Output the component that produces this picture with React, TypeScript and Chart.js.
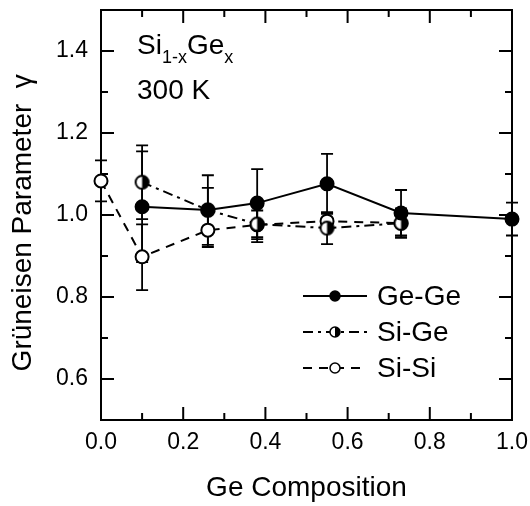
import React, { useEffect, useRef } from "react";
import { Chart, registerables } from "chart.js";
Chart.register(...registerables);

const FONT = "'Liberation Sans', Arial, Helvetica, sans-serif";

const xTicks = [0, 0.2, 0.4, 0.6, 0.8, 1.0];
const yTicks = [0.6, 0.8, 1.0, 1.2, 1.4];
const xMinor = [0.1, 0.3, 0.5, 0.7, 0.9];
const yMinor = [0.7, 0.9, 1.1, 1.3];

const seriesNames = ["Ge-Ge", "Si-Ge", "Si-Si"];

const geGeX = [0.1, 0.26, 0.38, 0.55, 0.73, 1.0];
const geGeY = [1.02, 1.012, 1.029, 1.076, 1.005, 0.99];
const geGeLow = [0.885, 0.927, 0.946, 1.003, 0.949, 0.95];
const geGeHigh = [1.155, 1.097, 1.112, 1.149, 1.061, 1.03];

const siGeX = [0.1, 0.26, 0.38, 0.55, 0.73];
const siGeY = [1.08, 1.012, 0.978, 0.968, 0.98];
const siGeLow = [0.99, 0.958, 0.934, 0.929, 0.944];
const siGeHigh = [1.17, 1.066, 1.022, 1.007, 1.016];

const siSiX = [0.0, 0.1, 0.26, 0.38, 0.55, 0.73];
const siSiY = [1.083, 0.898, 0.963, 0.976, 0.985, 0.98];
const siSiLow = [1.033, 0.817, 0.922, 0.941, 0.965, 0.95];
const siSiHigh = [1.133, 0.977, 1.004, 1.011, 1.005, 1.01];

const errLow = [geGeLow, siGeLow, siSiLow];
const errHigh = [geGeHigh, siGeHigh, siSiHigh];
const markerKinds = ["filled", "half", "open"];

function drawMarker(ctx: CanvasRenderingContext2D, kind: string, x: number, y: number, r: number, lw: number) {
  ctx.save();
  ctx.setLineDash([]);
  ctx.lineWidth = lw;
  ctx.strokeStyle = "#000";
  ctx.beginPath();
  ctx.arc(x, y, r, 0, Math.PI * 2);
  ctx.fillStyle = kind === "filled" ? "#000" : "#fff";
  ctx.fill();
  if (kind === "half") {
    ctx.beginPath();
    ctx.arc(x, y, r, -Math.PI / 2, Math.PI / 2);
    ctx.closePath();
    ctx.fillStyle = "#000";
    ctx.fill();
  }
  ctx.beginPath();
  ctx.arc(x, y, r, 0, Math.PI * 2);
  ctx.stroke();
  ctx.restore();
}

function makeHalfImage(r: number, lw: number) {
  const size = Math.ceil(2 * (r + lw));
  const c = document.createElement("canvas");
  c.width = size;
  c.height = size;
  const ctx = c.getContext("2d")!;
  drawMarker(ctx, "half", size / 2, size / 2, r, lw);
  return c;
}

const framePlugin = {
  id: "frameTicks",
  beforeDatasetsDraw(chart: any) {
    const { ctx, chartArea: a, scales } = chart;
    const xs = scales.x, ys = scales.y;
    ctx.save();
    ctx.strokeStyle = "#000";
    ctx.lineWidth = 2;
    ctx.setLineDash([]);
    ctx.strokeRect(a.left, a.top, a.right - a.left, a.bottom - a.top);
    const major = 13, minor = 7;
    ctx.beginPath();
    const xt = (v: number, len: number) => {
      const p = xs.getPixelForValue(v);
      ctx.moveTo(p, a.bottom); ctx.lineTo(p, a.bottom - len);
      ctx.moveTo(p, a.top); ctx.lineTo(p, a.top + len);
    };
    const yt = (v: number, len: number) => {
      const p = ys.getPixelForValue(v);
      ctx.moveTo(a.left, p); ctx.lineTo(a.left + len, p);
      ctx.moveTo(a.right, p); ctx.lineTo(a.right - len, p);
    };
    xTicks.forEach((v) => xt(v, major));
    xMinor.forEach((v) => xt(v, minor));
    yTicks.forEach((v) => yt(v, major));
    yMinor.forEach((v) => yt(v, minor));
    ctx.stroke();

    // error bars
    ctx.lineWidth = 1.8;
    chart.data.datasets.forEach((ds: any, si: number) => {
      ds.data.forEach((pt: any, i: number) => {
        const px = xs.getPixelForValue(pt.x);
        const lo = ys.getPixelForValue(errLow[si][i]);
        const hi = ys.getPixelForValue(errHigh[si][i]);
        ctx.beginPath();
        ctx.moveTo(px, lo); ctx.lineTo(px, hi);
        ctx.moveTo(px - 6, lo); ctx.lineTo(px + 6, lo);
        ctx.moveTo(px - 6, hi); ctx.lineTo(px + 6, hi);
        ctx.stroke();
      });
    });
    ctx.restore();
  },
  afterDraw(chart: any) {
    const { ctx } = chart;
    ctx.save();
    ctx.fillStyle = "#000";
    ctx.textBaseline = "alphabetic";
    ctx.textAlign = "left";
    // annotation
    const big = `28px ${FONT}`, small = `18px ${FONT}`;
    let x = 137;
    ctx.font = big; ctx.fillText("Si", x, 54); x += ctx.measureText("Si").width;
    ctx.font = small; ctx.fillText("1-x", x, 63); x += ctx.measureText("1-x").width;
    ctx.font = big; ctx.fillText("Ge", x, 54); x += ctx.measureText("Ge").width;
    ctx.font = small; ctx.fillText("x", x, 63);
    ctx.font = big; ctx.fillText("300 K", 137, 99);

    // legend
    const rows = [296, 332, 368];
    chart.data.datasets.forEach((ds: any, i: number) => {
      const y = rows[i];
      ctx.save();
      ctx.strokeStyle = "#000";
      ctx.lineWidth = 2;
      ctx.setLineDash(ds.borderDash || []);
      ctx.beginPath();
      ctx.moveTo(303, y); ctx.lineTo(367, y);
      ctx.stroke();
      ctx.restore();
      drawMarker(ctx, markerKinds[i], 335, y, 5, 1.5);
      ctx.font = big;
      ctx.textBaseline = "middle";
      ctx.fillText(ds.label, 377, y + 1);
    });
    ctx.restore();
  },
};

export default function App() {
  const ref = useRef<HTMLCanvasElement>(null);
  useEffect(() => {
    document.body.style.margin = "0";
    const halfImg = makeHalfImage(6.5, 2);
    const toPts = (xs: number[], ys: number[]) => xs.map((x, i) => ({ x, y: ys[i] }));
    const common = {
      showLine: true,
      borderColor: "#000",
      borderWidth: 2,
      pointBorderColor: "#000",
      pointBorderWidth: 2,
      pointRadius: 6.5,
      tension: 0,
      clip: false as any,
    };
    const chart = new Chart(ref.current!, {
      type: "scatter",
      data: {
        datasets: [
          {
            ...common,
            label: seriesNames[0],
            data: toPts(geGeX, geGeY),
            pointBackgroundColor: "#000",
            backgroundColor: "#000",
            borderDash: [],
          },
          {
            ...common,
            label: seriesNames[1],
            data: toPts(siGeX, siGeY),
            pointStyle: halfImg as any,
            backgroundColor: "#000",
            borderDash: [10, 5, 3, 5],
          },
          {
            ...common,
            label: seriesNames[2],
            data: toPts(siSiX, siSiY),
            pointBackgroundColor: "#fff",
            backgroundColor: "#fff",
            borderDash: [9, 7],
          },
        ],
      },
      options: {
        responsive: false,
        animation: false,
        layout: { padding: { top: 10, right: 18, left: 0, bottom: 0 } },
        plugins: { legend: { display: false }, tooltip: { enabled: false } },
        scales: {
          x: {
            type: "linear",
            min: 0,
            max: 1,
            afterBuildTicks: (s: any) => { s.ticks = xTicks.map((v) => ({ value: v })); },
            afterFit: (s: any) => {
              s.height = 86;
              s.paddingLeft = 0; s.paddingRight = 0; s.paddingTop = 0; s.paddingBottom = 0;
            },
            grid: { display: false, drawTicks: false, tickLength: 0 },
            border: { display: false },
            ticks: {
              padding: 9,
              color: "#000",
              font: { family: FONT, size: 23 },
              callback: (v: any) => Number(v).toFixed(1),
              maxRotation: 0,
            },
            title: {
              display: true,
              text: "Ge Composition",
              color: "#000",
              font: { family: FONT, size: 28 },
              padding: { top: 0, bottom: 1 },
            },
          },
          y: {
            type: "linear",
            min: 0.5,
            max: 1.5,
            afterBuildTicks: (s: any) => { s.ticks = yTicks.map((v) => ({ value: v })); },
            afterFit: (s: any) => {
              s.width = 101;
              s.paddingLeft = 0; s.paddingRight = 0; s.paddingTop = 0; s.paddingBottom = 0;
            },
            grid: { display: false, drawTicks: false, tickLength: 0 },
            border: { display: false },
            ticks: {
              padding: 13,
              color: "#000",
              font: { family: FONT, size: 23 },
              callback: (v: any) => Number(v).toFixed(1),
            },
            title: {
              display: true,
              text: "Grüneisen Parameter  γ  ",
              color: "#000",
              font: { family: FONT, size: 28 },
              padding: { top: 6, bottom: 0 },
            },
          },
        },
      },
      plugins: [framePlugin],
    });
    return () => chart.destroy();
  }, []);
  return (
    <div style={{ width: 530, height: 506 }}>
      <canvas ref={ref} width={530} height={506} style={{ display: "block" }} />
    </div>
  );
}
